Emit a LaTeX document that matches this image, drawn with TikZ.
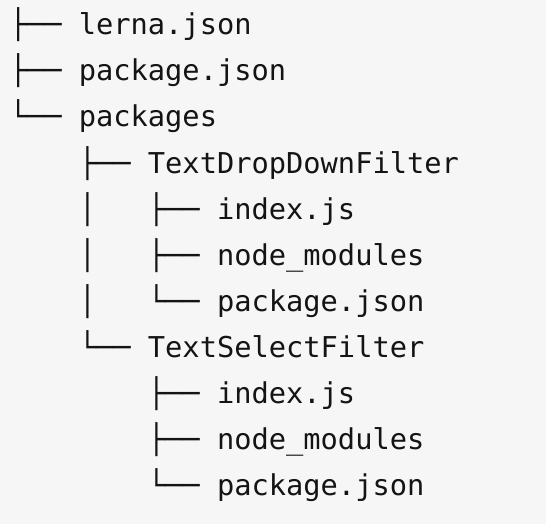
\documentclass[tikz,border=0pt]{standalone}
\usepackage{fontspec}
\setmonofont{DejaVu Sans Mono}
\usetikzlibrary{positioning}
\definecolor{termbg}{RGB}{246,246,246}
\definecolor{termfg}{RGB}{20,20,20}

\begin{document}
\begin{tikzpicture}[
    x=1pt, y=1pt,
    entry/.style={anchor=base west, inner sep=0pt, text=termfg, font=\ttfamily\fontsize{28.7}{46}\selectfont}
]

    \fill[termbg] (0,0) rectangle (546,-524);
    \useasboundingbox (0,0) rectangle (546,-524);

    \node[entry] (lerna) at (9.5,-35) {├── lerna.json};
    \node[entry] (rootpkg) at (9.5,-81) {├── package.json};
    \node[entry] (packages) at (9.5,-127) {└── packages};
    \node[entry] (dropdown) at (9.5,-173) {~~~~├── TextDropDownFilter};
    \node[entry] (ddindex) at (9.5,-219) {~~~~│~~~├── index.js};
    \node[entry] (ddmodules) at (9.5,-265) {~~~~│~~~├── node\_modules};
    \node[entry] (ddpkg) at (9.5,-311) {~~~~│~~~└── package.json};
    \node[entry] (select) at (9.5,-357) {~~~~└── TextSelectFilter};
    \node[entry] (selindex) at (9.5,-403) {~~~~~~~~├── index.js};
    \node[entry] (selmodules) at (9.5,-449) {~~~~~~~~├── node\_modules};
    \node[entry] (selpkg) at (9.5,-495) {~~~~~~~~└── package.json};

\end{tikzpicture}
\end{document}
